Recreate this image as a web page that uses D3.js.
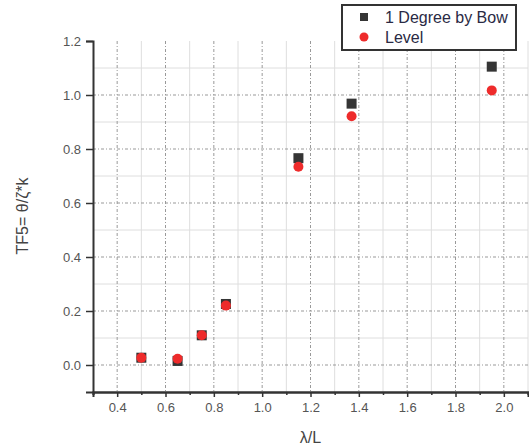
<!DOCTYPE html>
<html>
<head>
<meta charset="utf-8">
<script src="https://cdn.jsdelivr.net/npm/d3@7"></script>
<style>
  body { margin: 0; background: #fff; }
  svg { font-family: Arial, "Liberation Sans", sans-serif; }
</style>
</head>
<body>
<div id="chart"></div>
<script>
// values
const xValues = [0.5, 0.65, 0.75, 0.85, 1.15, 1.37, 1.95];
const bowValues = [0.027, 0.015, 0.11, 0.226, 0.766, 0.968, 1.105];
const levelValues = [0.027, 0.023, 0.11, 0.22, 0.734, 0.921, 1.017];
const xTicks = [0.4, 0.6, 0.8, 1.0, 1.2, 1.4, 1.6, 1.8, 2.0];
const yTicks = [0.0, 0.2, 0.4, 0.6, 0.8, 1.0, 1.2];
const xMinor = [0.3, 0.5, 0.7, 0.9, 1.1, 1.3, 1.5, 1.7, 1.9, 2.1];
const yMinor = [-0.1, 0.1, 0.3, 0.5, 0.7, 0.9, 1.1];
const seriesNames = ['1 Degree by Bow', 'Level'];

const width = 529, height = 448;
const plotLeft = 93, plotRight = 528, plotTop = 41, plotBottom = 392;

const svg = d3.select('#chart').append('svg').attr('width', width).attr('height', height);

const x = d3.scaleLinear().domain([0.3, 2.1]).range([plotLeft, plotRight]);
const y = d3.scaleLinear().domain([-0.1, 1.2]).range([plotBottom, plotTop]);

// minor grid
svg.append('g').selectAll('line').data(xMinor.filter(d => d > 0.3)).join('line')
  .attr('x1', d => x(d)).attr('x2', d => x(d)).attr('y1', plotTop).attr('y2', plotBottom)
  .attr('stroke', '#dedede').attr('stroke-width', 1);
svg.append('g').selectAll('line').data(yMinor.filter(d => d > -0.1)).join('line')
  .attr('x1', plotLeft).attr('x2', plotRight).attr('y1', d => y(d)).attr('y2', d => y(d))
  .attr('stroke', '#dedede').attr('stroke-width', 1);

// major grid, dash-dot
svg.append('g').selectAll('line').data(xTicks).join('line')
  .attr('x1', d => x(d)).attr('x2', d => x(d)).attr('y1', plotTop).attr('y2', plotBottom)
  .attr('stroke', '#999').attr('stroke-width', 1).attr('stroke-dasharray', '3,2,1,2');
svg.append('g').selectAll('line').data(yTicks.filter(d => d < 1.2)).join('line')
  .attr('x1', plotLeft).attr('x2', plotRight).attr('y1', d => y(d)).attr('y2', d => y(d))
  .attr('stroke', '#999').attr('stroke-width', 1).attr('stroke-dasharray', '3,2,1,2');

// axes
const xAxis = svg.append('g').attr('transform', `translate(0,${plotBottom})`)
  .call(d3.axisBottom(x).tickValues(xTicks).tickFormat(d3.format('.1f')).tickSize(5).tickPadding(6));
const xAxisMinor = svg.append('g').attr('transform', `translate(0,${plotBottom})`)
  .call(d3.axisBottom(x).tickValues(xMinor).tickFormat('').tickSize(3));
const yAxis = svg.append('g').attr('transform', `translate(${plotLeft},0)`)
  .call(d3.axisLeft(y).tickValues(yTicks).tickFormat(d3.format('.1f')).tickSize(7).tickPadding(5));

[xAxis, yAxis, xAxisMinor].forEach(g => {
  g.select('.domain').attr('stroke', '#333').attr('stroke-width', 2);
  g.selectAll('.tick line').attr('stroke', '#333').attr('stroke-width', 1.5);
  g.selectAll('.tick text').attr('fill', '#555').style('font-size', '13px');
});

// axis titles
svg.append('text').attr('x', (plotLeft + plotRight) / 2).attr('y', 443)
  .attr('text-anchor', 'middle').attr('fill', '#444').style('font-size', '16px').text('λ/L');
svg.append('text').attr('transform', 'translate(28,216) rotate(-90)')
  .attr('text-anchor', 'middle').attr('fill', '#444').style('font-size', '16px').text('TF5= θ/ζ*k');

// points
svg.append('g').selectAll('rect').data(xValues).join('rect')
  .attr('x', (d, i) => x(d) - 5).attr('y', (d, i) => y(bowValues[i]) - 5)
  .attr('width', 10).attr('height', 10).attr('fill', '#353535');
svg.append('g').selectAll('circle').data(xValues).join('circle')
  .attr('cx', d => x(d)).attr('cy', (d, i) => y(levelValues[i]))
  .attr('r', 5).attr('fill', '#ee2b2b');

// legend
const legend = svg.append('g');
legend.append('rect').attr('x', 342).attr('y', 5).attr('width', 174).attr('height', 45)
  .attr('fill', '#fff').attr('stroke', '#333').attr('stroke-width', 2);
legend.append('rect').attr('x', 360).attr('y', 13).attr('width', 8).attr('height', 8).attr('fill', '#353535');
legend.append('circle').attr('cx', 364).attr('cy', 37).attr('r', 4.5).attr('fill', '#ee2b2b');
legend.selectAll('text.lab').data(seriesNames).join('text').attr('class', 'lab')
  .attr('x', 385).attr('y', (d, i) => 23 + i * 20)
  .attr('fill', '#2a2a44').style('font-size', '16px').text(d => d);
</script>
</body>
</html>
